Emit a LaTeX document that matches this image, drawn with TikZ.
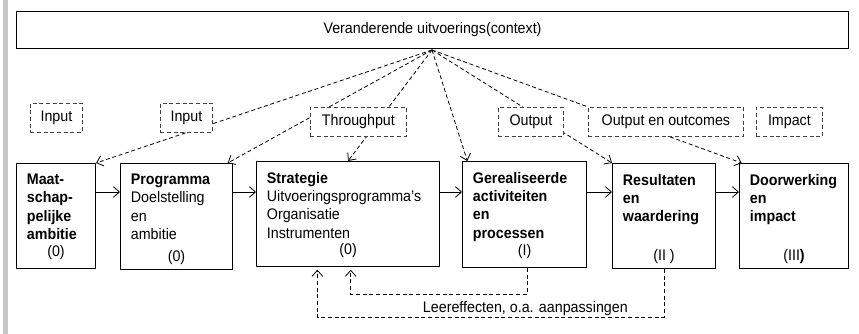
\documentclass[tikz,border=0pt]{standalone}
\usepackage{fontspec}
\setmainfont{Liberation Sans}[FakeStretch=0.93]
\usetikzlibrary{arrows.meta}
\newcommand\tekstmaat{\fontsize{11.5}{13.8}\selectfont}
\begin{document}
\begin{tikzpicture}[x=0.75pt,y=-0.75pt,font=\tekstmaat,
		pijl/.style={-{Straight Barb[length=4.5pt,width=8pt]},line width=0.6pt},
		stip/.style={pijl,dash pattern=on 3pt off 2pt},
		fase/.style 2 args={draw,line width=0.8pt,anchor=north west,inner sep=0pt,minimum width=#1*0.75pt,minimum height=#2*0.75pt},
		kop/.style={anchor=north west,align=left,inner xsep=8pt,inner ysep=8pt},
		vet/.style={kop,font=\tekstmaat\bfseries},
		nr/.style={anchor=south,inner sep=4pt},
		soort/.style={draw=black!75,dash pattern=on 3pt off 2pt,line width=0.6pt,fill=white,anchor=north west,inner sep=0pt,minimum width=#1*0.75pt,minimum height=29*0.75pt}]
	\useasboundingbox (0,0) rectangle (859,334);
	\fill[black!22] (3,0) rectangle (8,334);
	\node[fase={832}{37}] (context) at (16,11) {Veranderende uitvoerings(context)};
	\node[fase={79}{105},label={[vet]north west:{Maat-\\schap-\\pelijke\\ambitie}},label={[nr,yshift=3pt]south:(0)}] (maat) at (16,163) {};
	\node[fase={112}{106},label={[kop]north west:{\textbf{Programma}\\Doelstelling\\en\\ambitie}},label={[nr]south:(0)}] (prog) at (120,163) {};
	\node[fase={183}{105},label={[kop]north west:{\textbf{Strategie}\\Uitvoeringsprogramma's\\Organisatie\\Instrumenten}},label={[nr,yshift=3pt]south:(0)}] (strat) at (256,161) {};
	\node[fase={124}{106},label={[vet]north west:{Gerealiseerde\\activiteiten\\en\\processen}},label={[nr,yshift=3pt]south:(I)}] (gereal) at (462,161) {};
	\node[fase={103}{105},label={[vet]north west:{Resultaten\\en\\waardering}},label={[nr]south:(II )}] (result) at (612,163) {};
	\node[fase={109}{105},label={[vet]north west:{Doorwerking\\en\\impact}},label={[nr]south:(III\textbf{)}}] (doorw) at (739,163) {};
	\coordinate (stroom) at (0,192);
	\draw[pijl] (maat.east|-stroom) -- (prog.west|-stroom);
	\draw[pijl] (prog.east|-stroom) -- (strat.west|-stroom);
	\draw[pijl] (strat.east|-stroom) -- (gereal.west|-stroom);
	\draw[pijl] (gereal.east|-stroom) -- (result.west|-stroom);
	\draw[pijl] (result.east|-stroom) -- (doorw.west|-stroom);
	\coordinate (focus) at (432,50);
	\draw[stip] (focus) -- (maat.north east);
	\draw[stip] (focus) -- ([xshift=-4pt]prog.north east);
	\draw[stip] (focus) -- (strat.north);
	\draw[stip] (focus) -- ([xshift=4pt]gereal.north west);
	\draw[stip] (focus) -- (result.north west);
	\draw[stip] (focus) -- ([xshift=2pt]doorw.north west);
	\node[soort=52] (input1) at (30,103) {Input};
	\node[soort=52] (input2) at (160,103) {Input};
	\node[soort=96] (through) at (310,107) {Throughput};
	\node[soort=65] (output) at (498,107) {Output};
	\node[soort=155] (outcomes) at (588,107) {Output en outcomes};
	\node[soort=66] (impact) at (756,107) {Impact};
	\draw[stip,shorten >=2pt] ([xshift=2pt]gereal.south) -- ++(0,26) -| ([xshift=2pt]strat.south);
	\draw[stip,shorten >=2pt] (result.south) -- ++(0,48) -| node[pos=0.2,above,inner sep=1pt] (leer) {Leereffecten, o.a. aanpassingen} ([xshift=-23pt]strat.south);
\end{tikzpicture}
\end{document}
